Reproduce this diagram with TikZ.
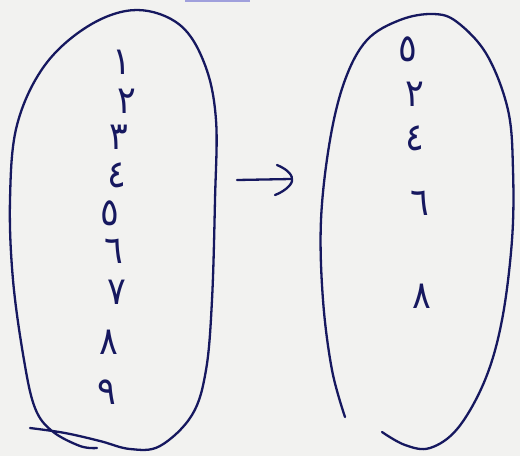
\documentclass[tikz,border=0pt]{standalone}
\usepackage{graphicx}
\usepackage{fontspec}
\newfontfamily\arabicfont[Script=Arabic]{DejaVu Sans}
\usetikzlibrary{calc}
\definecolor{ink}{RGB}{22,24,95}
\definecolor{paper}{RGB}{242,242,240}
\definecolor{strip}{RGB}{160,160,220}
\newcommand{\dg}[1]{\scalebox{1}[1.1]{#1}}
\begin{document}
\begin{tikzpicture}[x=1pt,y=-1pt,
  pen/.style={draw=ink,line width=2.3pt,line cap=round,line join=round},
  digit/.style={text=ink,font=\arabicfont\fontsize{35}{35}\selectfont,inner sep=0pt}]
\fill[paper] (0,0) rectangle (520,456);
\useasboundingbox (0,0) rectangle (520,456);
\fill[strip] (185,0) rectangle (250,1.6);
% left oval
\draw[pen] plot[smooth,tension=0.6] coordinates {(97,448) (80,446) (52,431) (35,408) (24,360) (13,280) (10,200) (17,125) (45,65) (90,25) (137,10) (180,25) (205,65) (216,120) (215,200) (212,300) (206,370) (192,415) (160,446) (130,449) (100,441) (65,433) (30,428)};
% right oval
\draw[pen] plot[smooth,tension=0.6] coordinates {(382,432) (405,445) (430,448) (458,428) (485,380) (502,320) (512,240) (513,170) (508,110) (487,55) (457,22) (433,14) (400,20) (367,40) (345,80) (330,140) (321,220) (323,300) (332,370) (345,417)};
% left digits
\node[digit] (l1) at (122,62) {\dg{١}};
\node[digit] (l2) at (127,101) {\dg{٢}};
\node[digit] (l3) at (119,137) {\dg{٣}};
\node[digit] (l4) at (117,175) {\dg{٤}};
\node[digit] (l5) at (110,213) {\dg{٥}};
\node[digit] (l6) at (114,251) {\dg{٦}};
\node[digit] (l7) at (117,292) {\dg{٧}};
\node[digit] (l8) at (109,342) {\dg{٨}};
\node[digit] (l9) at (107,392) {\dg{٩}};
% right digits
\node[digit] (r5) at (408,49) {\dg{٥}};
\node[digit] (r2) at (415,94) {\dg{٢}};
\node[digit] (r4) at (415,138) {\dg{٤}};
\node[digit] (r6) at (420,203) {\dg{٦}};
\node[digit] (r8) at (422,296) {\dg{٨}};
% arrow
\coordinate (a) at (237,180);
\coordinate (b) at (291,179);
\draw[pen] (a) -- (b);
\draw[pen] ($(b)+(-14,-14)$) .. controls ($(b)+(-2,-9)$) and ($(b)+(2,-3)$) .. ($(b)+(1,2)$) .. controls ($(b)+(0,7)$) and ($(b)+(-8,13)$) .. ($(b)+(-16,16)$);
\end{tikzpicture}
\end{document}
